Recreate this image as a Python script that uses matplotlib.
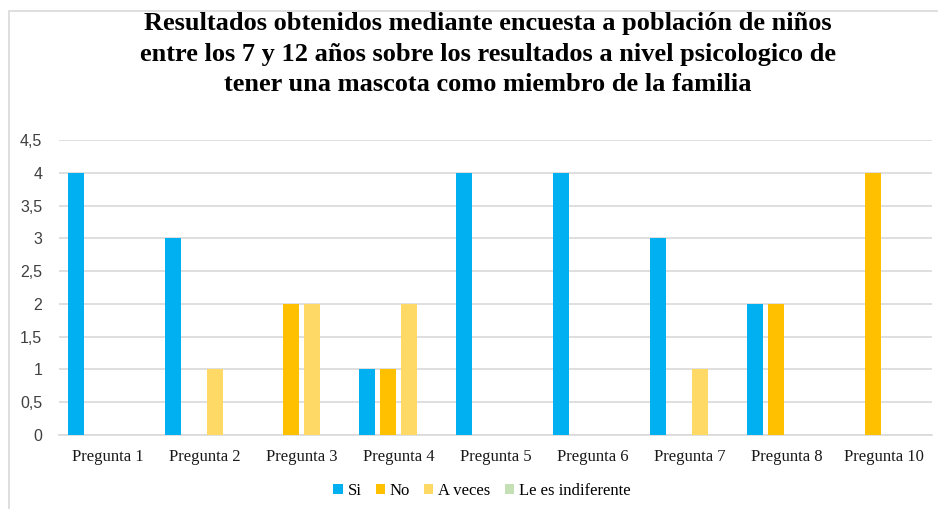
import matplotlib
matplotlib.use("Agg")
import matplotlib.pyplot as plt
import numpy as np
from matplotlib.patches import Rectangle
from matplotlib.ticker import FuncFormatter, MultipleLocator

categories = ["Pregunta 1", "Pregunta 2", "Pregunta 3", "Pregunta 4", "Pregunta 5",
              "Pregunta 6", "Pregunta 7", "Pregunta 8", "Pregunta 10"]
series_names = ["Si", "No", "A veces", "Le es indiferente"]
si = [4, 3, 0, 1, 4, 4, 3, 2, 0]
no = [0, 0, 2, 1, 0, 0, 0, 2, 4]
a_veces = [0, 1, 2, 2, 0, 0, 1, 0, 0]
indiferente = [0, 0, 0, 0, 0, 0, 0, 0, 0]
colors = ["#00B0F0", "#FFC000", "#FFD966", "#C5E0B4"]
title = ("Resultados obtenidos mediante encuesta a población de niños\n"
         "entre los 7 y 12 años sobre los resultados a nivel psicologico de\n"
         "tener una mascota como miembro de la familia")

fig = plt.figure(figsize=(9.38, 5.09), dpi=100)
fig.patch.set_facecolor("white")

# chart frame
fig.add_artist(Rectangle((8.5 / 938, -0.05), 1.2, (509 - 10.5) / 509 + 0.05,
                         transform=fig.transFigure, fill=False,
                         edgecolor="#D9D9D9", linewidth=1.2))

ax = fig.add_axes([59 / 938, 1 - 435 / 509, (932 - 59) / 938, (435 - 140) / 509])
x = np.arange(len(categories))
step = 0.217
width = 0.172
all_series = [si, no, a_veces, indiferente]
for i, (vals, c, name) in enumerate(zip(all_series, colors, series_names)):
    ax.bar(x + (i - 1.5) * step, vals, width, color=c, label=name, zorder=3)

ax.set_xlim(-0.5, len(categories) - 0.5)
ax.set_ylim(0, 4.5)
ax.yaxis.set_major_locator(MultipleLocator(0.5))
ax.yaxis.set_major_formatter(FuncFormatter(lambda v, p: (f"{v:g}").replace(".", ",")))
ax.grid(axis="y", color="#D9D9D9", linewidth=1.2, zorder=0)
for s in ["top", "right", "left"]:
    ax.spines[s].set_visible(False)
ax.spines["bottom"].set_color("#D9D9D9")
ax.spines["bottom"].set_linewidth(1.2)
ax.tick_params(axis="both", length=0)
ax.tick_params(axis="y", pad=12, labelsize=11.5, labelcolor="#404040")
for lab in ax.get_yticklabels():
    lab.set_fontfamily("Liberation Sans")
ax.set_xticks(x)
ax.set_xticklabels(categories, fontfamily="Liberation Serif", fontsize=12, color="#1a1a1a")
ax.tick_params(axis="x", pad=10)

fig.text(488 / 938, 1 - 54 / 509, title, ha="center", va="center",
         fontfamily="Liberation Serif", fontweight="bold", fontsize=19,
         linespacing=1.42, color="black")

handles, labels = ax.get_legend_handles_labels()
fig.legend(handles, labels, loc="center", bbox_to_anchor=(482 / 938, 1 - 491 / 509),
           ncol=4, frameon=False, prop={"family": "Liberation Serif", "size": 12},
           handlelength=0.55, handleheight=0.55, handletextpad=0.3, columnspacing=0.85)

fig.savefig("out.png", dpi=100)
